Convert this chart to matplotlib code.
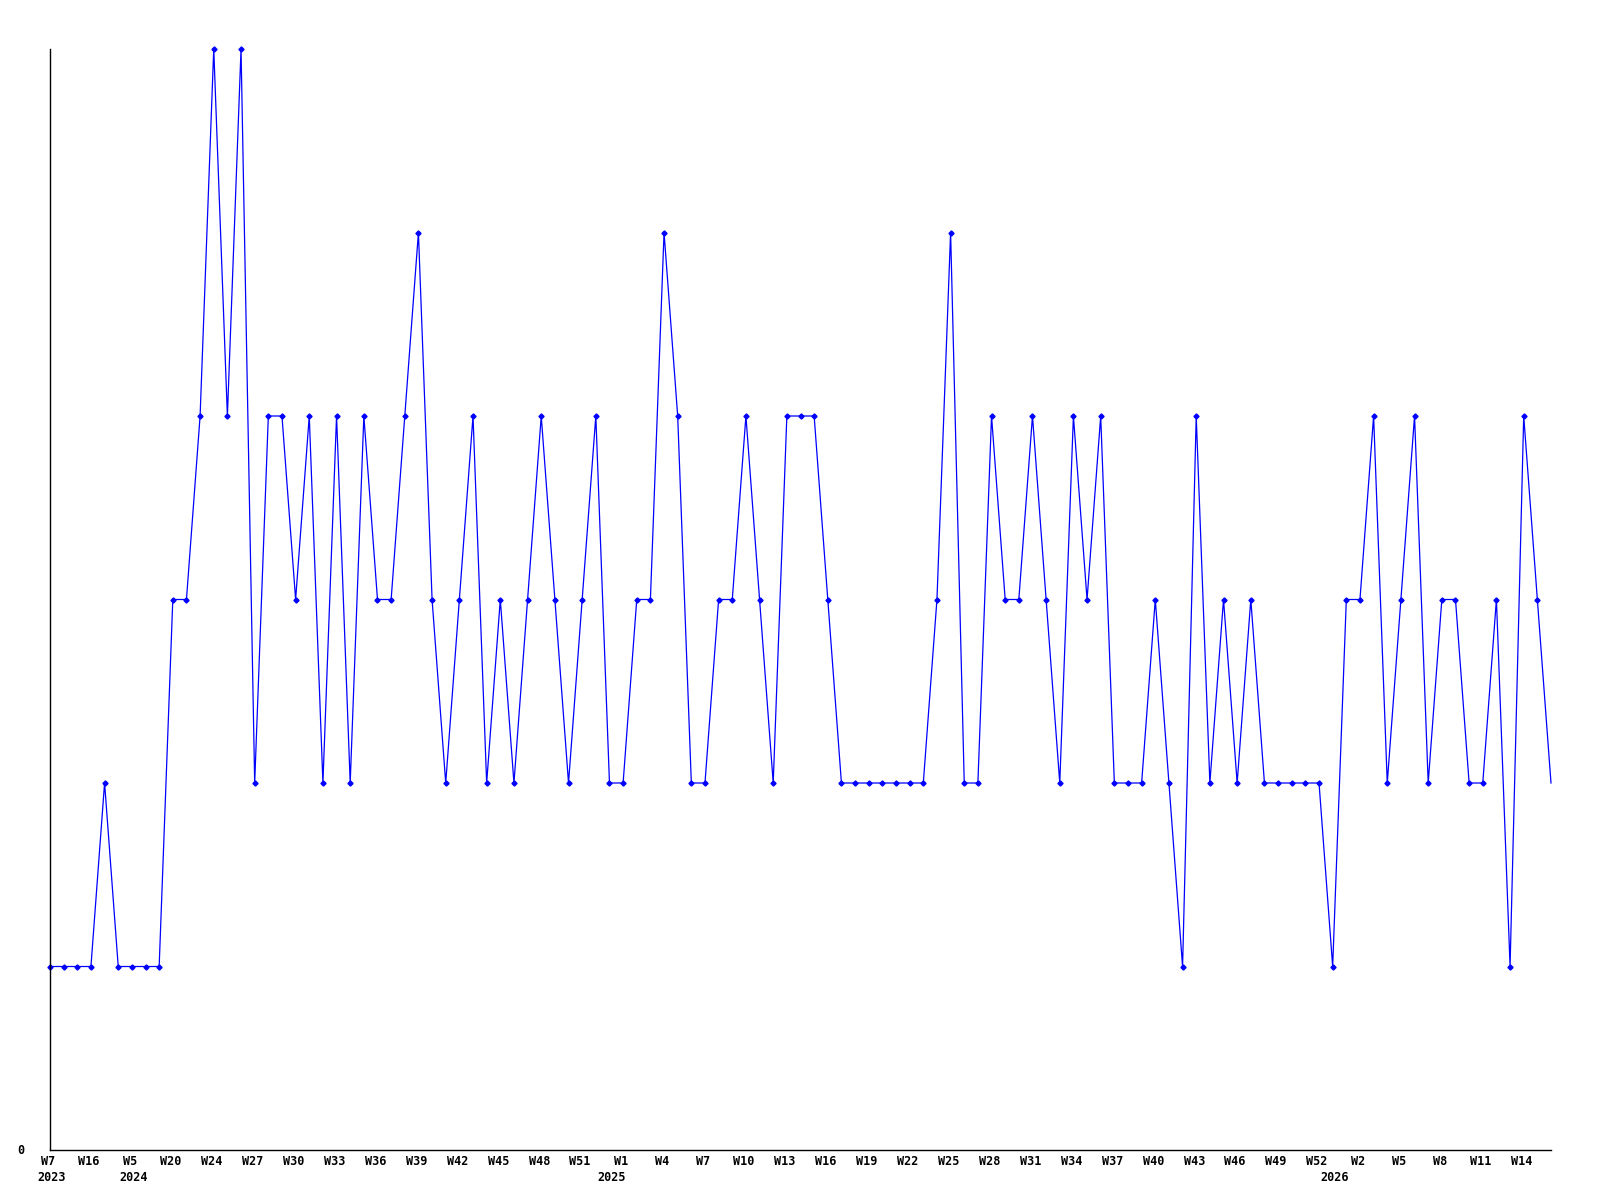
import matplotlib
matplotlib.use("Agg")
import matplotlib.pyplot as plt

# Data values (one per weekly point)
values = [1, 1, 1, 1, 2, 1, 1, 1, 1, 3,
          3, 4, 6, 4, 6, 2, 4, 4, 3, 4,
          2, 4, 2, 4, 3, 3, 4, 5, 3, 2,
          3, 4, 2, 3, 2, 3, 4, 3, 2, 3,
          4, 2, 2, 3, 3, 5, 4, 2, 2, 3,
          3, 4, 3, 2, 4, 4, 4, 3, 2, 2,
          2, 2, 2, 2, 2, 3, 5, 2, 2, 4,
          3, 3, 4, 3, 2, 4, 3, 4, 2, 2,
          2, 3, 2, 1, 4, 2, 3, 2, 3, 2,
          2, 2, 2, 2, 1, 3, 3, 4, 2, 3,
          4, 2, 3, 3, 2, 2, 3, 1, 4, 3,
          2]

week_labels = ["W7", "W16", "W5", "W20", "W24", "W27", "W30", "W33", "W36", "W39",
               "W42", "W45", "W48", "W51", "W1", "W4", "W7", "W10", "W13", "W16",
               "W19", "W22", "W25", "W28", "W31", "W34", "W37", "W40", "W43", "W46",
               "W49", "W52", "W2", "W5", "W8", "W11", "W14"]
week_label_idx = list(range(0, 109, 3))

year_labels = ["2023", "2024", "2025", "2026"]
year_label_idx = [0, 6, 41, 94]

x = list(range(len(values)))

fig = plt.figure(figsize=(16, 12), dpi=100)
ax = fig.add_axes([50 / 1600, 1 - 1150 / 1200, 1501 / 1600, 1101 / 1200])

ax.plot(x, values, color="#0000ff", linewidth=0.9, marker="D", markersize=2.6,
        markevery=list(range(len(values) - 1)), clip_on=False)

ax.set_xlim(0, len(values) - 1)
ax.set_ylim(0, 6)
for s in ["top", "right"]:
    ax.spines[s].set_visible(False)
for s in ["left", "bottom"]:
    ax.spines[s].set_linewidth(1.0)
    ax.spines[s].set_color("black")
ax.set_xticks([])
ax.set_yticks([])

font = dict(family="DejaVu Sans Mono", fontweight="bold", fontsize=8.5)

for i, lab in zip(week_label_idx, week_labels):
    ax.annotate(lab, xy=(i, 0), xycoords="data", xytext=(-2, -5),
                textcoords="offset pixels", ha="center", va="top", **font)
for i, lab in zip(year_label_idx, year_labels):
    ax.annotate(lab, xy=(i, 0), xycoords="data", xytext=(2, -21),
                textcoords="offset pixels", ha="center", va="top", **font)

ax.annotate("0", xy=(0, 0), xycoords="data", xytext=(-26, 0),
            textcoords="offset pixels", ha="right", va="center", **font)

fig.savefig("out.png", dpi=100, facecolor="white")
